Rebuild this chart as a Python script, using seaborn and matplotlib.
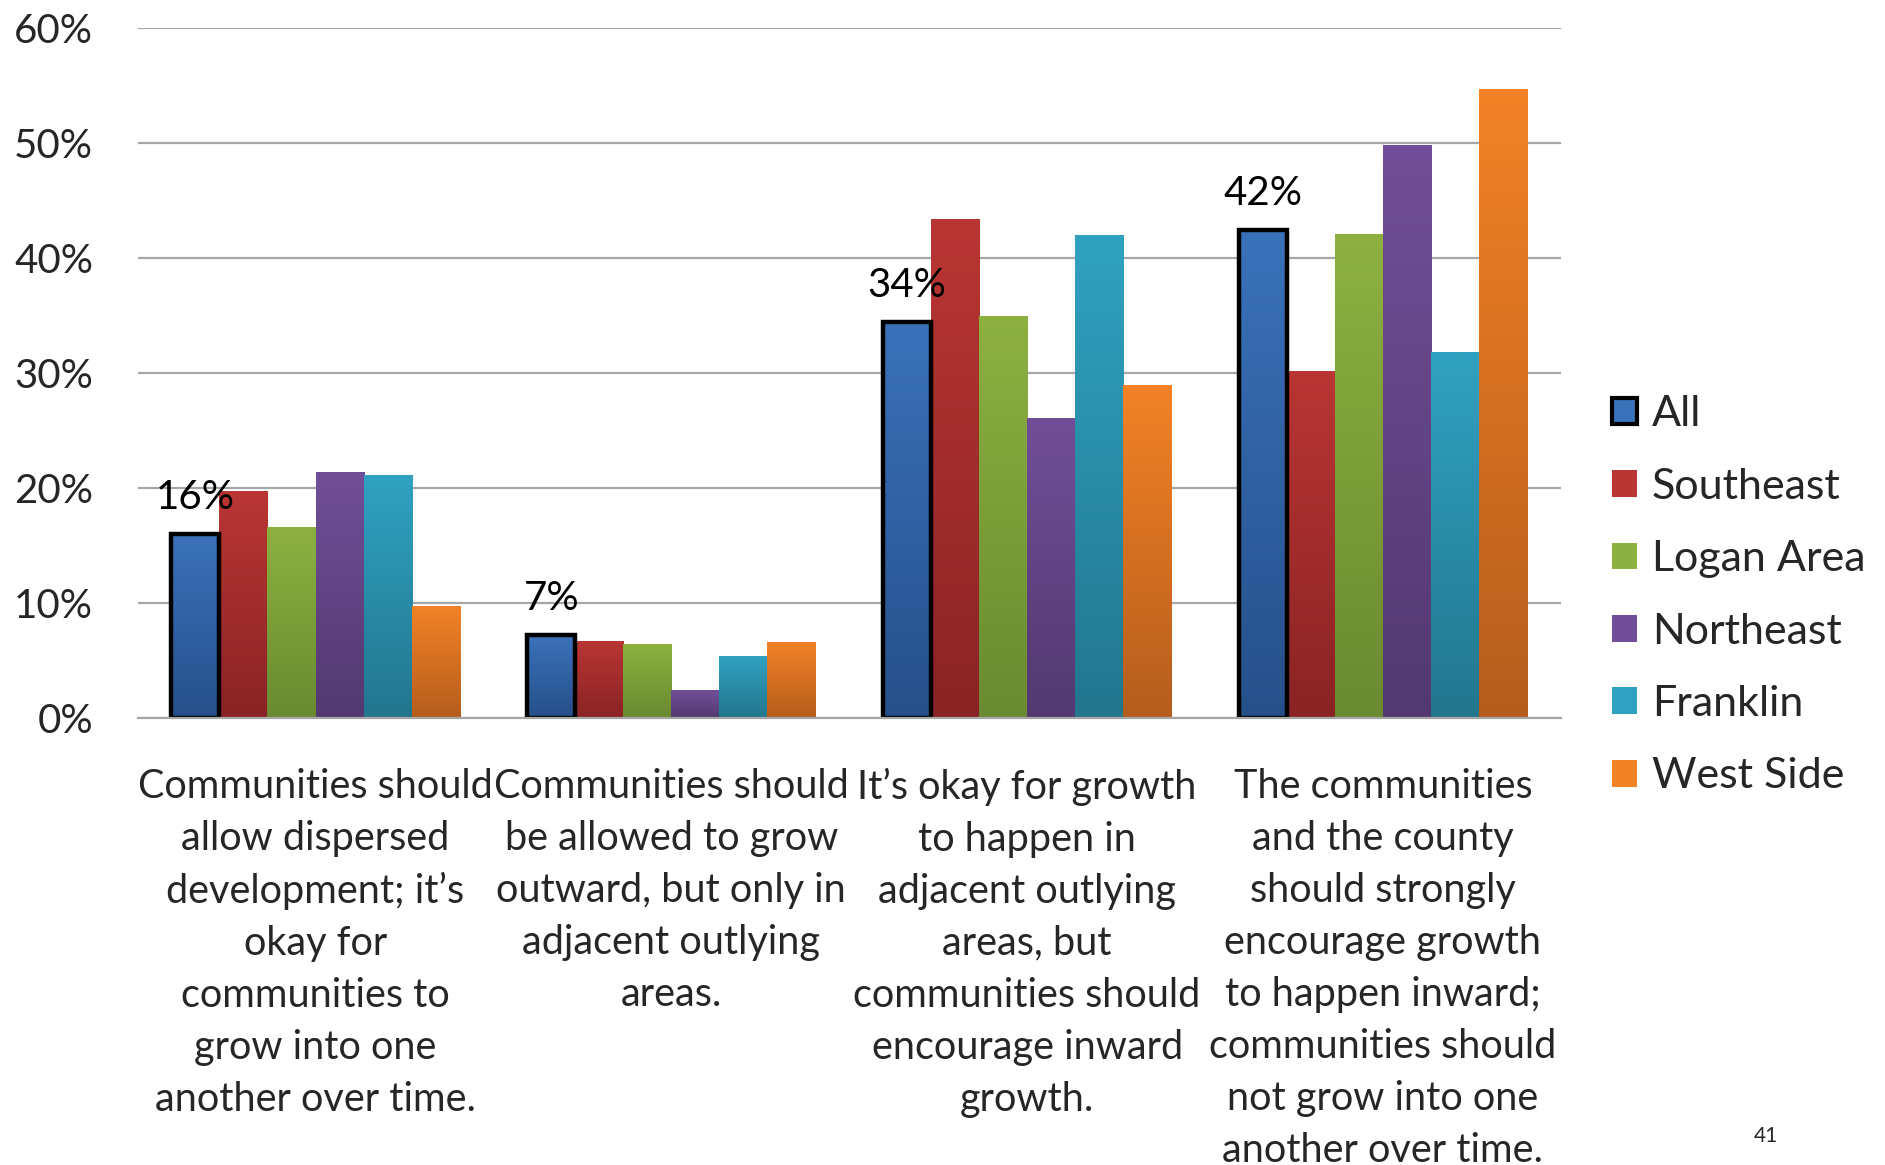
"""
Bar chart: opinions on growth by region (All vs. sub-areas), with gradient bars.
"""

import matplotlib
matplotlib.use("Agg")
import matplotlib.pyplot as plt
from matplotlib.colors import LinearSegmentedColormap
from matplotlib.patches import Patch
import numpy as np
import pandas as pd
import seaborn as sns

# Data
categories = [
    "Communities should\nallow dispersed\ndevelopment; it\u2019s\nokay for\ncommunities to\ngrow into one\nanother over time.",
    "Communities should\nbe allowed to grow\noutward, but only in\nadjacent outlying\nareas.",
    "It\u2019s okay for growth\nto happen in\nadjacent outlying\nareas, but\ncommunities should\nencourage inward\ngrowth.",
    "The communities\nand the county\nshould strongly\nencourage growth\nto happen inward;\ncommunities should\nnot grow into one\nanother over time.",
]
regions = ["All", "Southeast", "Logan Area", "Northeast", "Franklin", "West Side"]

all_vals = [16.0, 7.2, 34.4, 42.4]
southeast_vals = [19.7, 6.7, 43.4, 30.2]
logan_vals = [16.6, 6.4, 34.9, 42.1]
northeast_vals = [21.4, 2.4, 26.1, 49.8]
franklin_vals = [21.1, 5.4, 42.0, 31.8]
westside_vals = [9.7, 6.6, 28.9, 54.7]

# gradient colours (top, bottom) per region
top_colors = ["#3A72BA", "#B93634", "#8DB140", "#714F98", "#30A2C1", "#F28226"]
bottom_colors = ["#26508A", "#8A2324", "#698A30", "#523970", "#22768E", "#B55D1D"]

series = [all_vals, southeast_vals, logan_vals, northeast_vals, franklin_vals, westside_vals]
rows = []
for reg, vals in zip(regions, series):
    for cat, v in zip(categories, vals):
        rows.append({"Category": cat, "Region": reg, "Value": v / 100.0})
df = pd.DataFrame(rows)

sns.set_theme(style="white")
plt.rcParams["font.family"] = ["Lato", "DejaVu Sans"]

fig = plt.figure(figsize=(18.85, 11.65), dpi=100)
ax = fig.add_axes([0.073, 0.384, 0.755, 0.592])

sns.barplot(
    data=df, x="Category", y="Value", hue="Region",
    hue_order=regions, order=categories,
    palette=top_colors, width=0.81, gap=0, legend=False,
    errorbar=None, ax=ax, saturation=1,
)

# paint a vertical gradient inside each bar
grad = np.linspace(1, 0, 256).reshape(-1, 1)
bars = list(ax.patches)
n_cat = len(categories)
for i, bar in enumerate(bars):
    r = i // n_cat
    x0, w, h = bar.get_x(), bar.get_width(), bar.get_height()
    cmap = LinearSegmentedColormap.from_list("g", [bottom_colors[r], top_colors[r]])
    im = ax.imshow(grad, extent=[x0, x0 + w, 0, h], aspect="auto",
                   cmap=cmap, vmin=0, vmax=1, zorder=1.2)
    im.set_clip_path(bar)
    bar.set_facecolor("none")
    bar.set_zorder(1.5)
    if r == 0:
        bar.set_edgecolor("black")
        bar.set_linewidth(3.2)
    else:
        bar.set_edgecolor("none")

ax.set_ylim(0, 0.6)
ax.set_xlim(-0.5, 3.5)

# labels above the "All" bars
for bar, v in zip(bars[:n_cat], all_vals):
    ax.annotate(f"{v:.0f}%", (bar.get_x() + bar.get_width() / 2, bar.get_height()),
                xytext=(0, 13), textcoords="offset points",
                ha="center", va="bottom", fontsize=29, color="black")

# axes styling
ax.set_yticks(np.arange(0, 0.61, 0.1))
ax.set_yticklabels([f"{int(t)}%" for t in range(0, 61, 10)])
ax.yaxis.grid(True, color="#A6A6A6", linewidth=1.6)
ax.set_axisbelow(True)
for side in ["top", "right", "left"]:
    ax.spines[side].set_visible(False)
ax.spines["bottom"].set_color("#A6A6A6")
ax.spines["bottom"].set_linewidth(1.6)
ax.tick_params(axis="y", length=0, pad=32, labelsize=29)
ax.tick_params(axis="x", length=0, pad=36, labelsize=28.5)
ax.set_xlabel("")
ax.set_ylabel("")
for lab in ax.get_xticklabels():
    lab.set_linespacing(1.5)

# legend
handles = []
for r, reg in enumerate(regions):
    if r == 0:
        handles.append(Patch(facecolor=top_colors[r], edgecolor="black", linewidth=3, label=reg))
    else:
        handles.append(Patch(facecolor=top_colors[r], edgecolor="none", label=reg))
fig.legend(handles=handles, loc="center left", bbox_to_anchor=(0.844, 0.489),
           frameon=False, fontsize=31, handlelength=0.58, handleheight=0.58,
           handletextpad=0.33, labelspacing=0.80, borderpad=0)

fig.text(0.937, 0.025, "41", fontsize=15, ha="center", va="center")

fig.savefig("out.png", dpi=100)
plt.close(fig)
